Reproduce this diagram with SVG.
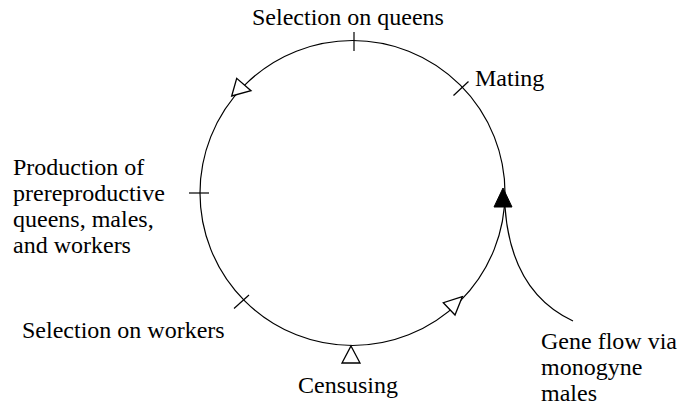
<svg xmlns="http://www.w3.org/2000/svg" width="678" height="406" viewBox="0 0 678 406">
<style>
.ln{fill:none;stroke:#000;stroke-width:1.2}
.open{fill:#fff;stroke:#000;stroke-width:1.3;stroke-linejoin:miter}
.fill{fill:#000;stroke:#000;stroke-width:1}
.t{font-family:"Liberation Serif","Times New Roman",serif;font-size:24px;fill:#000}
</style>
<rect width="678" height="406" fill="#fff"/>
<g id="cycle">
<circle class="ln" cx="352.5" cy="193" r="152.5"/>
</g>
<g id="connectors">
<path class="ln" d="M505,207 Q511,292 573,321"/>
</g>
<g font-family="Liberation Serif, Times New Roman, serif" font-size="24" fill="#000">
<g id="selection-queens">
<line class="ln" x1="354" y1="32" x2="354" y2="51"/>
<text class="t" x="252" y="25">Selection on queens</text>
</g>
<g id="mating">
<line class="ln" x1="453.5" y1="95.5" x2="468.5" y2="81.5"/>
<text class="t" x="475" y="86">Mating</text>
</g>
<g id="production">
<line class="ln" x1="189" y1="193" x2="209" y2="193"/>
<text class="t" x="13" y="175">Production of</text>
<text class="t" x="13" y="201">prereproductive</text>
<text class="t" x="13" y="227">queens, males,</text>
<text class="t" x="13" y="253">and workers</text>
</g>
<g id="selection-workers">
<line class="ln" x1="234" y1="308.5" x2="249" y2="295"/>
<text class="t" x="22" y="338">Selection on workers</text>
</g>
<g id="censusing">
<polygon class="open" points="351,346 360,363 342,363"/>
<text class="t" x="298" y="393">Censusing</text>
</g>
<g id="arrow-upper-left">
<polygon class="open" points="231.7,96 236.7,78.3 251,90.7"/>
</g>
<g id="arrow-lower-right">
<polygon class="open" points="462.3,296.7 443.3,302.7 455,315"/>
</g>
<g id="gene-flow">
<polygon class="fill" points="503,188 512,207 494,207"/>
<text class="t" x="541" y="349">Gene flow via</text>
<text class="t" x="541" y="375">monogyne</text>
<text class="t" x="541" y="401">males</text>
</g>
</g>
</svg>
